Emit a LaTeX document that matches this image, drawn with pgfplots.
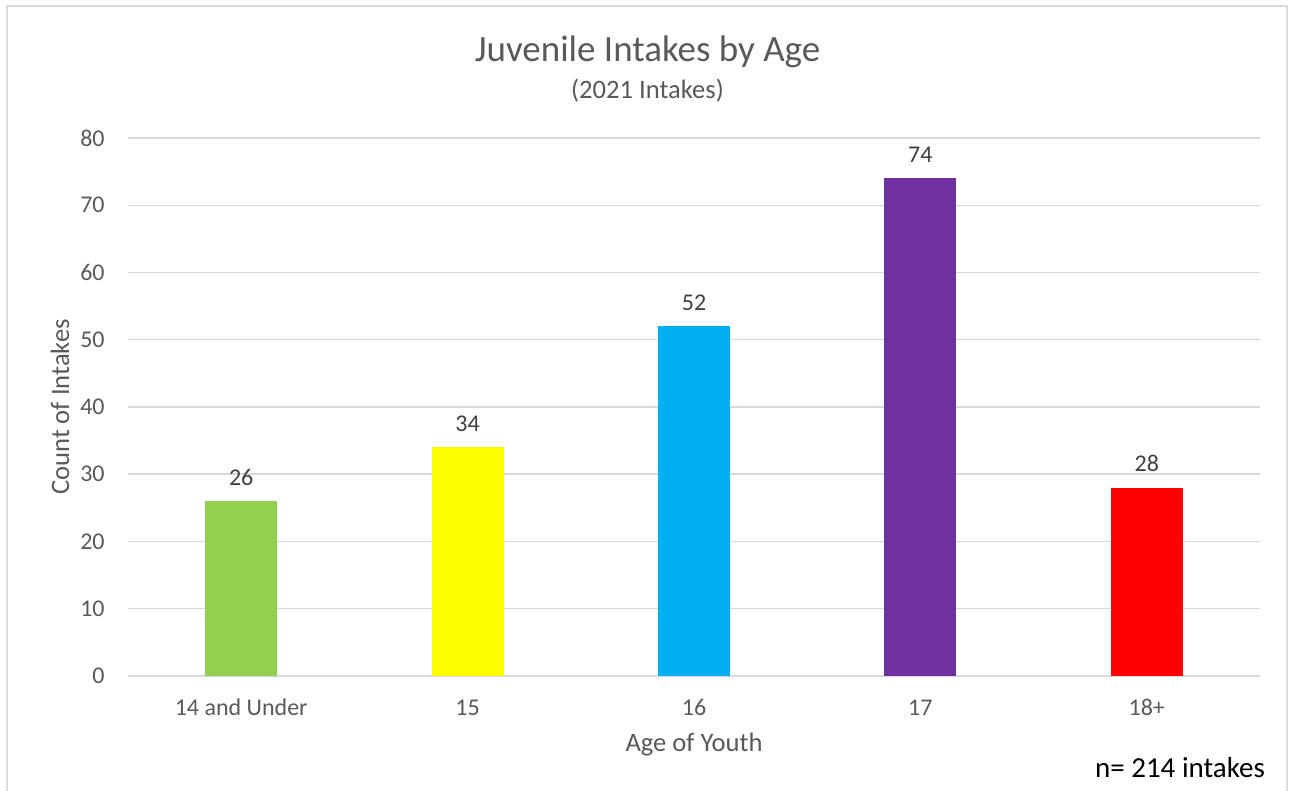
\documentclass[border=0pt]{standalone}
\usepackage{pgfplots}
\pgfplotsset{compat=1.18}
\usepackage{fontspec}
\setmainfont{Carlito}

\definecolor{txtgray}{HTML}{595959}
\definecolor{lblgray}{HTML}{404040}
\definecolor{gridgray}{HTML}{D9D9D9}
\definecolor{cgreen}{HTML}{92D050}
\definecolor{cyellow}{HTML}{FFFF00}
\definecolor{cblue}{HTML}{00B0F0}
\definecolor{cpurple}{HTML}{7030A0}
\definecolor{cred}{HTML}{FF0000}

\begin{document}
\begin{tikzpicture}
% page extent and chart frame (open at the bottom)
\useasboundingbox (-64pt,-57.5pt) rectangle (581.5pt,338pt);
\draw[gridgray, line width=0.8pt] (-60.5pt,-57.5pt) -- (-60.5pt,335pt) -- (579.5pt,335pt) -- (579.5pt,-57.5pt);

\begin{axis}[
  at={(0,0)}, anchor=south west,
  scale only axis,
  width=566pt, height=269pt,
  ybar,
  bar width=36pt,
  bar shift=0pt,
  xmin=-0.5, xmax=4.5,
  ymin=0, ymax=80,
  ytick={0,10,...,80},
  xtick={0,1,2,3,4},
  xticklabels={14 and Under,15,16,17,18+},
  axis line style={draw=none},
  major tick length=0pt,
  ymajorgrids,
  grid style={gridgray, line width=0.75pt},
  /pgf/number format/assume math mode=true,
  ticklabel style={font=\fontsize{12pt}{14pt}\selectfont, text=txtgray},
  yticklabel style={anchor=east, inner sep=0pt, xshift=-11.5pt},
  xticklabel style={anchor=base, inner sep=0pt, yshift=-20pt},
  xlabel={Age of Youth},
  ylabel={Count of Intakes},
  label style={font=\fontsize{13.3pt}{16pt}\selectfont, text=txtgray},
  xlabel style={at={(axis description cs:0.5,-0.128)}, anchor=center},
  ylabel style={at={(axis description cs:-0.0601,0.5)}, anchor=center},
  nodes near coords,
  every node near coord/.append style={font=\fontsize{12pt}{14pt}\selectfont, text=lblgray, anchor=base, yshift=8pt, inner sep=0pt},
  clip=false,
]
\addplot[draw=none, fill=cgreen]  coordinates {(0,26)};
\addplot[draw=none, fill=cyellow] coordinates {(1,34)};
\addplot[draw=none, fill=cblue]   coordinates {(2,52)};
\addplot[draw=none, fill=cpurple] coordinates {(3,74)};
\addplot[draw=none, fill=cred]    coordinates {(4,28)};
\end{axis}

% titles and footnote
\node[text=txtgray, font=\fontsize{18.5pt}{22pt}\selectfont] at (259.75pt,312pt) {Juvenile Intakes by Age};
\node[text=txtgray, font=\fontsize{13.3pt}{16pt}\selectfont] at (259.75pt,292.5pt) {(2021 Intakes)};
\node[text=black, font=\fontsize{14.5pt}{17pt}\selectfont] at (526pt,-46pt) {n= 214 intakes};
\end{tikzpicture}
\end{document}
